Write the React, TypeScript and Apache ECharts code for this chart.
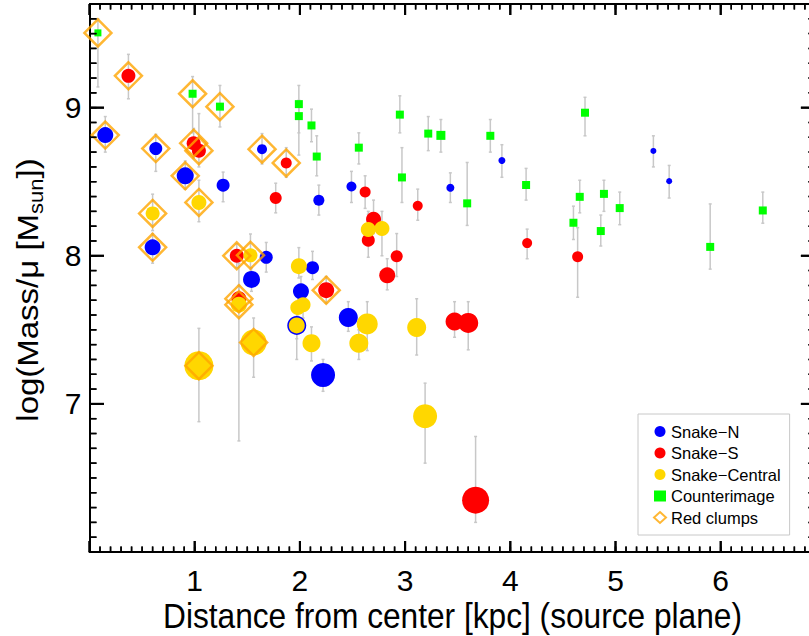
import React, { useEffect, useRef } from 'react';
import * as echarts from 'echarts';

// Each row: [distance (kpc), log(Mass/mu), error low, error high, marker diameter]
const snakeN: number[][] = [
  [0.15, 8.815, 8.70, 8.94, 16],
  [0.63, 8.724, 8.57, 8.82, 13],
  [0.91, 8.54, 8.45, 8.64, 17],
  [1.27, 8.477, 8.365, 8.565, 13],
  [1.64, 8.72, 8.62, 8.825, 10],
  [2.18, 8.375, 8.275, 8.477, 11],
  [0.60, 8.057, 7.95, 8.15, 16],
  [1.68, 7.99, 7.89, 8.09, 13],
  [1.54, 7.84, 7.76, 7.92, 17],
  [2.12, 7.92, 7.84, 8.03, 13],
  [2.01, 7.76, 7.68, 7.86, 16],
  [1.97, 7.53, 7.30, 7.59, 19],
  [2.22, 7.195, 7.085, 7.30, 24],
  [2.49, 8.468, 8.36, 8.57, 10],
  [2.46, 7.583, 7.49, 7.69, 19],
  [3.43, 8.459, 8.36, 8.56, 8],
  [3.92, 8.643, 8.53, 8.75, 7],
  [5.36, 8.708, 8.60, 8.81, 6],
  [5.51, 8.504, 8.39, 8.61, 6],
];

const snakeS: number[][] = [
  [0.37, 9.215, 9.06, 9.36, 14],
  [0.99, 8.76, 8.66, 8.86, 14],
  [1.04, 8.71, 8.60, 8.96, 14],
  [1.87, 8.627, 8.53, 8.73, 11],
  [1.77, 8.39, 8.29, 8.49, 12],
  [2.62, 8.43, 8.32, 8.54, 11],
  [3.12, 8.337, 8.24, 8.45, 10],
  [2.70, 8.246, 8.15, 8.376, 15],
  [2.65, 8.105, 7.99, 8.30, 13],
  [2.92, 7.997, 7.86, 8.15, 12],
  [2.83, 7.868, 7.77, 7.98, 16],
  [4.16, 8.086, 7.98, 8.18, 10],
  [4.64, 7.994, 7.72, 8.19, 11],
  [1.40, 8.0, 7.92, 8.08, 14],
  [1.42, 7.71, 7.62, 7.80, 15],
  [2.25, 7.768, 7.68, 7.86, 16],
  [3.47, 7.556, 7.45, 7.69, 18],
  [3.60, 7.547, 7.365, 7.69, 20],
  [3.67, 6.35, 6.20, 6.78, 27],
];

const snakeCentral: number[][] = [
  [1.04, 8.36, 8.23, 8.51, 15],
  [0.60, 8.286, 8.17, 8.416, 14],
  [1.53, 8.003, 7.88, 8.147, 14],
  [1.42, 7.67, 6.75, 7.95, 16],
  [1.99, 7.93, 7.85, 8.055, 16],
  [2.03, 7.67, 7.58, 7.76, 15],
  [1.98, 7.65, 7.56, 7.74, 15],
  [1.56, 7.415, 7.18, 7.58, 26],
  [1.97, 7.53, 7.44, 7.62, 16],
  [2.11, 7.41, 7.29, 7.52, 18],
  [1.04, 7.258, 6.88, 7.51, 29],
  [2.65, 8.178, 8.07, 8.28, 15],
  [2.78, 8.185, 8.0, 8.30, 15],
  [2.64, 7.54, 7.36, 7.69, 21],
  [2.56, 7.41, 7.30, 7.50, 19],
  [3.11, 7.516, 7.33, 7.71, 19],
  [3.19, 6.917, 6.60, 7.14, 24],
];

const counterimage: number[][] = [
  [0.08, 9.505, 9.14, 9.60, 7],
  [0.98, 9.094, 8.83, 9.21, 8],
  [1.24, 9.007, 8.87, 9.15, 8],
  [1.99, 9.024, 8.83, 9.15, 8],
  [1.99, 8.943, 8.68, 9.05, 8],
  [2.11, 8.88, 8.77, 8.99, 8],
  [2.16, 8.67, 8.54, 8.81, 8],
  [2.56, 8.73, 8.62, 8.83, 8],
  [2.95, 8.953, 8.83, 9.08, 8],
  [2.97, 8.529, 8.36, 8.73, 8],
  [3.22, 8.825, 8.71, 8.94, 8],
  [3.34, 8.813, 8.70, 8.92, 9],
  [3.59, 8.354, 8.205, 8.63, 8],
  [3.81, 8.81, 8.70, 8.92, 8],
  [4.15, 8.478, 8.376, 8.59, 8],
  [4.71, 8.966, 8.81, 9.07, 8],
  [4.66, 8.398, 8.29, 8.51, 8],
  [4.89, 8.418, 8.30, 8.51, 8],
  [5.04, 8.322, 8.21, 8.43, 8],
  [4.60, 8.223, 8.11, 8.335, 8],
  [4.86, 8.167, 8.066, 8.275, 8],
  [5.90, 8.06, 7.91, 8.35, 8],
  [6.40, 8.306, 8.22, 8.43, 8],
];

// Red clumps: [distance (kpc), log(Mass/mu)]
const redClumps: number[][] = [
  [0.08, 9.505], [0.37, 9.215], [0.98, 9.094], [1.24, 9.007],
  [0.15, 8.815], [0.63, 8.724], [0.99, 8.76], [1.04, 8.71],
  [0.91, 8.54], [1.64, 8.72], [1.87, 8.627], [1.04, 8.36],
  [0.60, 8.286], [0.60, 8.057], [1.40, 8.0], [1.53, 8.003],
  [1.42, 7.71], [1.42, 7.67], [2.25, 7.768], [1.56, 7.415],
  [1.04, 7.258],
];

const seriesNames = ['Snake\u2212N', 'Snake\u2212S', 'Snake\u2212Central', 'Counterimage', 'Red clumps'];

const xTickLabels = [1, 2, 3, 4, 5, 6];
const yTickLabels = [7, 8, 9];
const xMajorTicks = [0, 1, 2, 3, 4, 5, 6];
const yMajorTicks = [6, 7, 8, 9];
const X_MIN = 0, X_MAX = 6.9, Y_MIN = 6, Y_MAX = 9.7;
const xMinorTicks = Array.from({ length: 69 }, (_, i) => (i + 1) / 10);
const yMinorTicks = Array.from({ length: 37 }, (_, i) => (61 + i) / 10);

const FONT = '"Liberation Sans", Arial, Helvetica, sans-serif';

function errorBars(data: number[][]) {
  return {
    type: 'custom',
    silent: true,
    z: 1,
    clip: true,
    data: data.map((d) => [d[0], d[2], d[3]]),
    encode: { x: 0, y: [1, 2] },
    renderItem: (_params: any, api: any) => {
      const lo = api.coord([api.value(0), api.value(1)]);
      const hi = api.coord([api.value(0), api.value(2)]);
      const st = { stroke: '#c8c8c8', lineWidth: 1.5 };
      const c = 1.5;
      return {
        type: 'group',
        children: [
          { type: 'line', shape: { x1: lo[0], y1: lo[1], x2: hi[0], y2: hi[1] }, style: st },
          { type: 'line', shape: { x1: lo[0] - c, y1: lo[1], x2: lo[0] + c, y2: lo[1] }, style: st },
          { type: 'line', shape: { x1: hi[0] - c, y1: hi[1], x2: hi[0] + c, y2: hi[1] }, style: st },
        ],
      };
    },
  };
}

// Builds the frame and inward ticks, given a data->pixel function
function frameLines(toPx: (p: number[]) => number[]) {
  const lines: number[][] = [];
  const add = (x1: number, y1: number, x2: number, y2: number, w: number) => lines.push([x1, y1, x2, y2, w]);
  const tl = toPx([X_MIN, Y_MAX]);
  const tr = toPx([X_MAX, Y_MAX]);
  const br = toPx([X_MAX, Y_MIN]);
  add(tl[0], tl[1], tr[0], tr[1], 2);
  add(tr[0], tr[1], br[0], br[1], 2);
  const xTicks = (vals: number[], len: number, w: number) =>
    vals.forEach((v) => {
      const b = toPx([v, Y_MIN]);
      const t = toPx([v, Y_MAX]);
      add(b[0], b[1], b[0], b[1] - len, w);
      add(t[0], t[1], t[0], t[1] + len, w);
    });
  const yTicks = (vals: number[], len: number, w: number) =>
    vals.forEach((v) => {
      const l = toPx([X_MIN, v]);
      const r = toPx([X_MAX, v]);
      add(l[0], l[1], l[0] + len, l[1], w);
      add(r[0], r[1], r[0] - len, r[1], w);
    });
  xTicks(xMinorTicks, 5.5, 1.5);
  xTicks(xMajorTicks, 11, 2);
  yTicks(yMinorTicks, 7, 1.5);
  yTicks(yMajorTicks, 14.5, 2);
  return lines;
}

const frameSeries = {
  type: 'custom',
  silent: true,
  z: 5,
  clip: false,
  data: [[X_MIN, Y_MIN]],
  encode: { x: 0, y: 1 },
  renderItem: (_params: any, api: any) => ({
    type: 'group',
    children: frameLines((p) => api.coord(p)).map((l) => ({
      type: 'line',
      shape: { x1: l[0], y1: l[1], x2: l[2], y2: l[3] },
      style: { stroke: '#000', lineWidth: l[4] },
    })),
  }),
};

function pointSeries(name: string, data: number[][], color: string, symbol: string) {
  return {
    type: 'scatter',
    name,
    z: 2,
    symbol,
    symbolSize: (v: number[]) => v[4],
    data,
    itemStyle: { color, opacity: 1 },
    emphasis: { disabled: true },
  };
}

const titleGraphics = [
  {
    type: 'text',
    x: 452.5,
    y: 615,
    scaleX: 0.88,
    style: {
      text: 'Distance from center [kpc] (source plane)',
      fontSize: 36,
      fontFamily: FONT,
      fill: '#000',
      align: 'center',
      verticalAlign: 'middle',
    },
  },
  {
    type: 'text',
    x: 27.7,
    y: 290,
    rotation: Math.PI / 2,
    scaleX: 1.1,
    style: {
      text: '{a|log(Mass/\u03bc [M}{s|sun}{a|])}',
      fill: '#000',
      align: 'center',
      verticalAlign: 'middle',
      rich: {
        a: { fontSize: 30, fontFamily: FONT, fill: '#000', lineHeight: 36 },
        s: { fontSize: 20, fontFamily: FONT, fill: '#000', lineHeight: 18, verticalAlign: 'bottom' },
      },
    },
  },
];

export default function App() {
  const ref = useRef<HTMLDivElement>(null);
  useEffect(() => {
    if (!ref.current) return;
    const chart = echarts.init(ref.current, null, { renderer: 'svg' });
    chart.setOption({
      animation: false,
      backgroundColor: '#fff',
      grid: { left: 89.5, top: 4, right: -6.4, bottom: 84, outerBoundsMode: 'none', containLabel: false },
      xAxis: {
        type: 'value',
        min: X_MIN,
        max: X_MAX,
        interval: 1,
        axisLine: { show: true, onZero: false, lineStyle: { color: '#000', width: 2 } },
        axisTick: { show: false },
        axisLabel: {
          color: '#000',
          fontSize: 30,
          fontFamily: FONT,
          margin: 13,
          showMinLabel: false,
          showMaxLabel: false,
          formatter: (v: number) => (xTickLabels.indexOf(v) >= 0 ? String(v) : ''),
        },
        splitLine: { show: false },
      },
      yAxis: {
        type: 'value',
        min: Y_MIN,
        max: Y_MAX,
        interval: 1,
        axisLine: { show: true, onZero: false, lineStyle: { color: '#000', width: 2 } },
        axisTick: { show: false },
        axisLabel: {
          color: '#000',
          fontSize: 30,
          fontFamily: FONT,
          margin: 8,
          showMinLabel: false,
          showMaxLabel: false,
          formatter: (v: number) => (yTickLabels.indexOf(v) >= 0 ? String(v) : ''),
        },
        splitLine: { show: false },
      },
      legend: {
        data: seriesNames,
        orient: 'vertical',
        left: 638,
        top: 414,
        padding: [9, 9, 9, 15],
        itemWidth: 12,
        itemHeight: 11,
        itemGap: 4.5,
        backgroundColor: '#fff',
        borderColor: '#c8c8c8',
        borderWidth: 1,
        borderRadius: 0,
        selectedMode: false,
        z: 10,
        textStyle: { fontSize: 16.5, color: '#000', fontFamily: FONT },
      },
      graphic: titleGraphics,
      series: [
        errorBars(snakeN),
        errorBars(snakeS),
        errorBars(snakeCentral),
        errorBars(counterimage),
        pointSeries(seriesNames[0], snakeN, '#0000ff', 'circle'),
        pointSeries(seriesNames[1], snakeS, '#ff0000', 'circle'),
        pointSeries(seriesNames[2], snakeCentral, '#ffd700', 'circle'),
        pointSeries(seriesNames[3], counterimage, '#00ff00', 'rect'),
        {
          type: 'scatter',
          name: seriesNames[4],
          z: 3,
          symbol: 'diamond',
          symbolSize: 27,
          data: redClumps,
          itemStyle: { color: 'rgba(255,255,255,0)', borderColor: '#ffa500', borderWidth: 2.5 },
          emphasis: { disabled: true },
        },
        frameSeries,
      ],
    });
    // Second pass: the same ticks as graphic lines, positioned through the grid's scales
    const toPx = (p: number[]) => chart.convertToPixel({ gridIndex: 0 }, p) as number[];
    const tickGraphics = frameLines(toPx).map((l) => ({
      type: 'line',
      silent: true,
      z: 50,
      shape: { x1: l[0], y1: l[1], x2: l[2], y2: l[3] },
      style: { stroke: '#000', lineWidth: l[4] },
    }));
    chart.setOption({ graphic: [...titleGraphics, ...tickGraphics] });
    return () => chart.dispose();
  }, []);
  return (
    <div
      ref={ref}
      style={{ position: 'absolute', left: 0, top: 0, width: 809, height: 636, background: '#fff' }}
    />
  );
}
